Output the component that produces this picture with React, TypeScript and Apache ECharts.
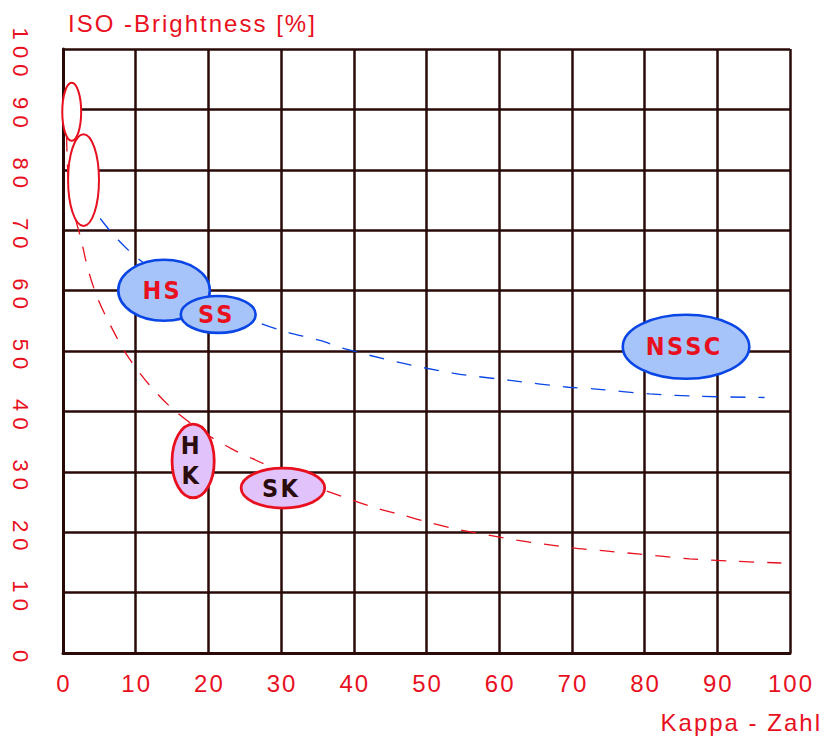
import React, { useEffect, useRef } from 'react';
import * as echarts from 'echarts';

// ---- data ----
const kappaMin = 0;
const kappaMax = 100;
const brightMin = 0;
const brightMax = 100;
const tickStep = 10;

const xAxisTitle = 'Kappa - Zahl';
const yAxisTitle = 'ISO -Brightness [%]';

// dashed trend curves [kappa, brightness]
const redCurve: number[][] = [
  [0.5, 85.5], [0.9, 76.0], [2.5, 68.4], [3.4, 63.7], [4.7, 58.9], [6.5, 54.3],
  [8.8, 49.3], [11.8, 44.5], [14.9, 40.6], [19.0, 36.8], [23.2, 33.8], [27.3, 31.5],
  [33.0, 28.3], [38.9, 25.7], [42.8, 24.1], [46.8, 22.8], [50.7, 21.5], [54.6, 20.4],
  [62.4, 18.7], [70.0, 17.4], [74.6, 16.9], [79.0, 16.4], [86.2, 15.6], [92.2, 15.2],
  [98.8, 14.9],
];
const blueCurve: number[][] = [
  [3.3, 76.0], [4.5, 73.0], [7.2, 68.9], [10.2, 65.4], [15.0, 61.3], [20.0, 58.3],
  [26.7, 54.8], [30.3, 53.3], [35.5, 51.7], [38.1, 50.6], [45.9, 48.2], [53.8, 46.3],
  [61.8, 45.1], [69.5, 44.0], [73.3, 43.7], [80.7, 42.9], [87.6, 42.5], [96.5, 42.3],
];

// pulp regions drawn as ellipses
const regionNames = ['', '', 'HS', 'SS', 'H\nK', 'SK', 'NSSC'];
const regionKind = ['open', 'open', 'blue', 'blue', 'pink', 'pink', 'blue'];
const regionKappaLo = [-0.1, 0.7, 7.6, 16.2, 15.0, 24.5, 77.0];
const regionKappaHi = [2.5, 4.95, 20.2, 26.5, 20.8, 36.0, 94.4];
const regionBrightLo = [84.8, 70.7, 55.0, 53.0, 25.7, 24.0, 45.4];
const regionBrightHi = [94.4, 85.9, 65.1, 59.1, 37.9, 30.6, 56.0];

// ---- styles ----
const RED = '#e8101e';
const BLUE = '#0a46e6';
const GRID = '#2a0a08';
const FONT = '"Liberation Sans", Arial, Helvetica, sans-serif';
const NARROW = '"Liberation Sans Narrow", "Arial Narrow", "DejaVu Sans Condensed", "Liberation Sans", sans-serif';

const kindStyle: Record<string, { fill: string; stroke: string; lw: number; text: string }> = {
  open: { fill: '#ffffff', stroke: RED, lw: 2, text: RED },
  blue: { fill: '#a6c4fa', stroke: BLUE, lw: 2.6, text: RED },
  pink: { fill: '#e2c2fa', stroke: RED, lw: 2.8, text: '#2a0c0c' },
};

const spaced = (s: string, sep = '\u200a') =>
  s
    .split('\n')
    .map((line) => line.split('').join(sep))
    .join('\n');

export default function App() {
  const ref = useRef<HTMLDivElement>(null);

  useEffect(() => {
    if (!ref.current) return;
    const chart = echarts.init(ref.current, undefined, { renderer: 'svg' });

    const regionData = regionNames.map((_, i) => [
      regionKappaLo[i],
      regionKappaHi[i],
      regionBrightLo[i],
      regionBrightHi[i],
    ]);

    const option: any = {
      animation: false,
      backgroundColor: '#ffffff',
      grid: { left: 63, right: 35, top: 49, bottom: 89, containLabel: false },
      xAxis: {
        type: 'value',
        min: kappaMin,
        max: kappaMax,
        interval: tickStep,
        name: spaced(xAxisTitle),
        nameLocation: 'end',
        nameGap: 30,
        nameTextStyle: {
          color: RED,
          fontSize: 24,
          fontFamily: FONT,
          align: 'right',
          verticalAlign: 'top',
          padding: [57, 0, 0, 0],
        },
        axisLine: { show: true, lineStyle: { color: GRID, width: 3 } },
        axisTick: { show: false },
        axisLabel: {
          color: RED,
          fontSize: 24,
          fontFamily: FONT,
          margin: 18,
          formatter: (v: number) => spaced(String(v)),
        },
        splitLine: { show: true, lineStyle: { color: GRID, width: 2.5 } },
      },
      yAxis: {
        type: 'value',
        min: brightMin,
        max: brightMax,
        interval: tickStep,
        name: spaced(yAxisTitle),
        nameLocation: 'end',
        nameGap: 14,
        nameTextStyle: {
          color: RED,
          fontSize: 24,
          fontFamily: FONT,
          align: 'left',
          verticalAlign: 'bottom',
          padding: [0, 0, 0, 5],
        },
        axisLine: { show: true, lineStyle: { color: GRID, width: 3 } },
        axisTick: { show: false },
        axisLabel: {
          color: RED,
          fontSize: 22,
          fontFamily: FONT,
          rotate: -90,
          margin: 32,
          padding: [0, 0, 0, 6],
          formatter: (v: number) => spaced(String(v), ' '),
        },
        splitLine: { show: true, lineStyle: { color: GRID, width: 2.5 } },
      },
      series: [
        {
          type: 'line',
          data: redCurve,
          smooth: 0.3,
          symbol: 'none',
          z: 2,
          lineStyle: { color: RED, width: 1.3, type: [15, 13] },
        },
        {
          type: 'line',
          data: blueCurve,
          smooth: 0.3,
          symbol: 'none',
          z: 2,
          lineStyle: { color: BLUE, width: 1.3, type: [15, 13] },
        },
        {
          type: 'custom',
          z: 5,
          data: regionData,
          encode: { x: [0, 1], y: [2, 3] },
          renderItem: (params: any, api: any) => {
            const i = params.dataIndex;
            const p1 = api.coord([api.value(0), api.value(2)]);
            const p2 = api.coord([api.value(1), api.value(3)]);
            const cx = (p1[0] + p2[0]) / 2;
            const cy = (p1[1] + p2[1]) / 2;
            const rx = Math.abs(p2[0] - p1[0]) / 2;
            const ry = Math.abs(p2[1] - p1[1]) / 2;
            const st = kindStyle[regionKind[i]];
            const children: any[] = [
              {
                type: 'ellipse',
                shape: { cx, cy, rx, ry },
                style: { fill: st.fill, stroke: st.stroke, lineWidth: st.lw },
              },
            ];
            if (regionNames[i]) {
              children.push({
                type: 'text',
                x: cx - 3,
                y: cy,
                style: {
                  text: spaced(regionNames[i], '\u200a'),
                  fill: st.text,
                  font: `bold 25px ${NARROW}`,
                  align: 'center',
                  verticalAlign: 'middle',
                  textAlign: 'center',
                  textVerticalAlign: 'middle',
                  lineHeight: 30,
                },
              });
            }
            return { type: 'group', children };
          },
        },
      ],
    };

    chart.setOption(option);
    return () => chart.dispose();
  }, []);

  return (
    <div
      ref={ref}
      style={{ position: 'fixed', left: 0, top: 0, width: 825, height: 742, background: '#fff' }}
    />
  );
}
